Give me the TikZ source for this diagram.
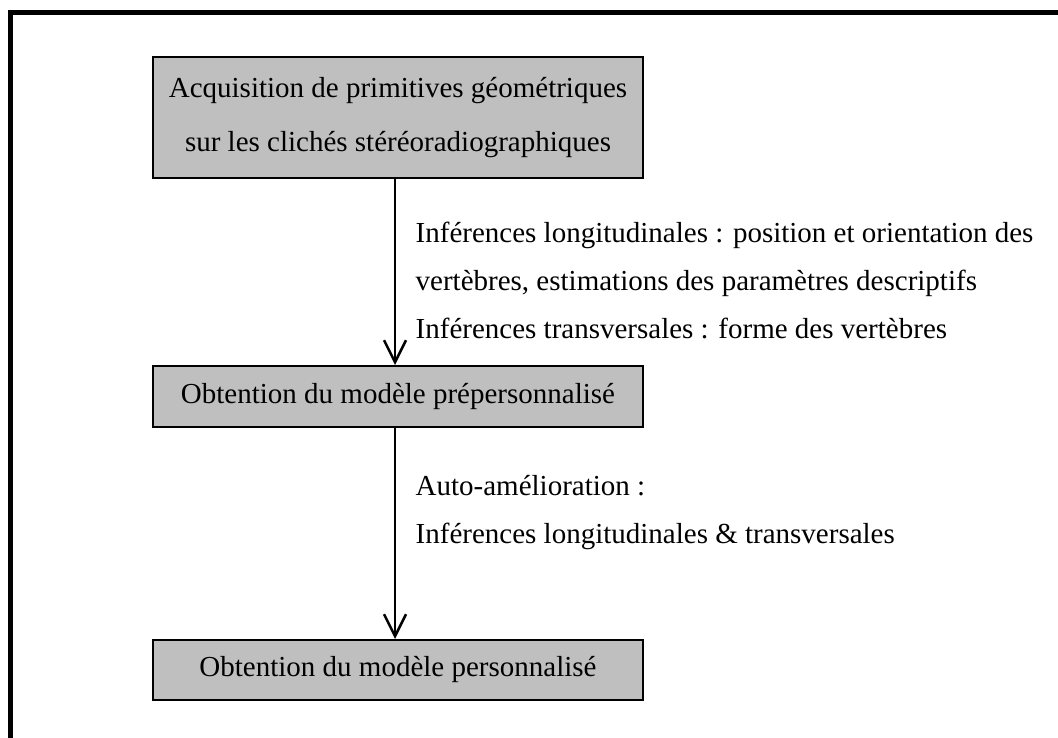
\documentclass[tikz,border=0pt]{standalone}
\usepackage{fontspec}
\setmainfont{Liberation Serif}
\usetikzlibrary{arrows.meta, positioning}

\begin{document}
\begin{tikzpicture}[
  x=1pt, y=-1pt,
  >={Straight Barb[length=22pt, width=22pt]},
  every node/.style={font=\fontsize{29}{54}\selectfont},
  etape/.style={draw=black, line width=2pt, fill=black!25, minimum width=490pt, inner sep=0pt, align=center},
  legende/.style={align=left, anchor=north west, inner sep=0pt, font=\fontsize{29}{48}\selectfont}
]
  \useasboundingbox (0,0) rectangle (1058,738);
  \draw[line width=5pt] (10.8,13) rectangle (1090,770);
  \node[etape, minimum height=121pt] (acq) at (398,117.5) {Acquisition de primitives géométriques\\sur les clichés stéréoradiographiques};
  \node[etape, minimum height=61pt] (prep) at (398,396.5) {Obtention du modèle prépersonnalisé};
  \node[etape, minimum height=60pt] (pers) at (398,670) {Obtention du modèle personnalisé};
  \draw[->, line width=2.5pt] ([xshift=-3pt]acq.south) -- ([xshift=-3pt]prep.north);
  \draw[->, line width=2.5pt] ([xshift=-3pt]prep.south) -- ([xshift=-3pt]pers.north);
  \node[legende] (inf) at (415.5,222) {Inférences longitudinales : position et orientation des\\vertèbres, estimations des paramètres descriptifs\\Inférences transversales : forme des vertèbres};
  \node[legende] (auto) at (415.5,475) {Auto-amélioration :\\Inférences longitudinales \& transversales};
\end{tikzpicture}
\end{document}
